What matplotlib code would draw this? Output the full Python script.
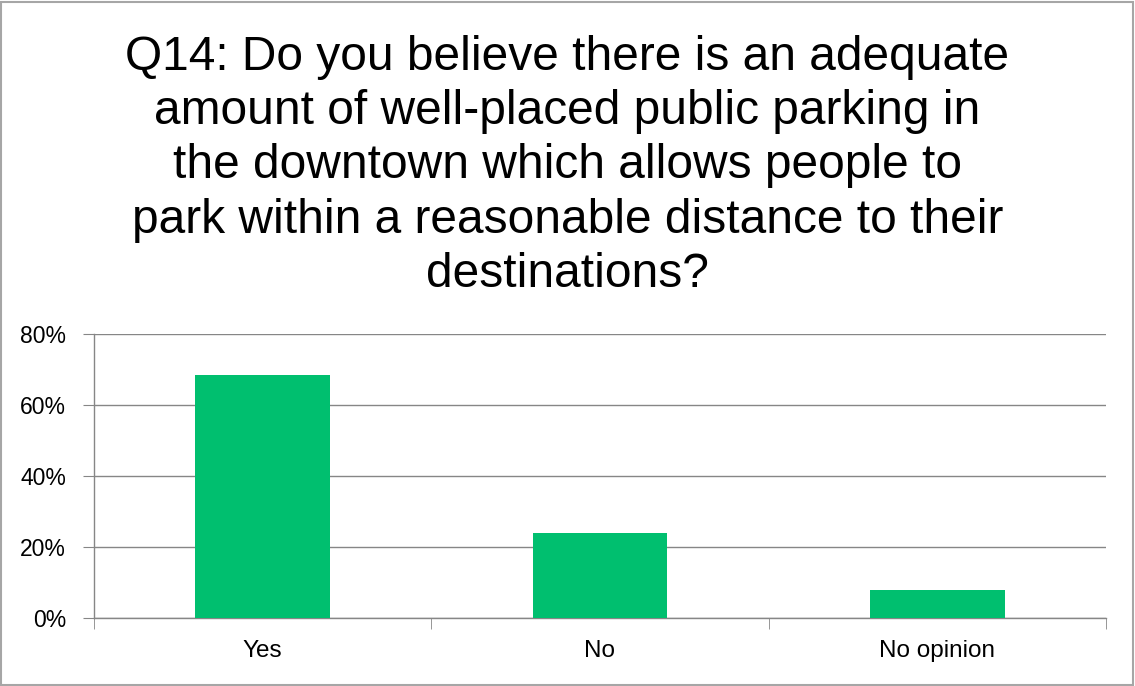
import matplotlib
matplotlib.use("Agg")
import matplotlib.pyplot as plt
from matplotlib.patches import Rectangle
from matplotlib.ticker import PercentFormatter, FixedLocator

categories = ["Yes", "No", "No opinion"]
values = [0.684, 0.239, 0.078]
title = ("Q14: Do you believe there is an adequate\n"
         "amount of well-placed public parking in\n"
         "the downtown which allows people to\n"
         "park within a reasonable distance to their\n"
         "destinations?")

plt.rcParams['font.family'] = ['Liberation Sans', 'DejaVu Sans']

fig = plt.figure(figsize=(11.35, 6.86), dpi=100)
ax = fig.add_axes([94/1135, 1-617.7/686, (1106-94)/1135, (617.7-333.7)/686])

grid_c = '#868686'
x = range(len(categories))
ax.bar(x, values, width=0.4, color='#00BF6F', zorder=3)
ax.set_xlim(-0.5, len(categories)-0.5)
ax.set_ylim(0, 0.8)
ax.set_yticks([0, 0.2, 0.4, 0.6, 0.8])
ax.yaxis.set_major_formatter(PercentFormatter(1.0, decimals=0))
ax.grid(axis='y', color=grid_c, linewidth=1.0, zorder=0)
ax.set_xticks(list(x))
ax.set_xticklabels(categories)
ax.xaxis.set_minor_locator(FixedLocator([-0.5, 0.5, 1.5, 2.5]))
ax.tick_params(axis='x', which='major', length=0, pad=16, labelsize=17.5)
ax.tick_params(axis='x', which='minor', length=8, color=grid_c, direction='out')
ax.tick_params(axis='y', length=8, color=grid_c, labelsize=16.5, pad=12)
for s in ['top', 'right']:
    ax.spines[s].set_visible(False)
for s in ['left', 'bottom']:
    ax.spines[s].set_color(grid_c)
    ax.spines[s].set_linewidth(1.0)

fig.text(0.5, 1-166/686, title, ha='center', va='center', fontsize=34.5, linespacing=1.26)

fig.patches.append(Rectangle((1/1135, 1/686), 1132/1135, 683/686, transform=fig.transFigure,
                             fill=False, edgecolor='#A6A6A6', linewidth=1.5))

fig.savefig('out.png', dpi=100)
